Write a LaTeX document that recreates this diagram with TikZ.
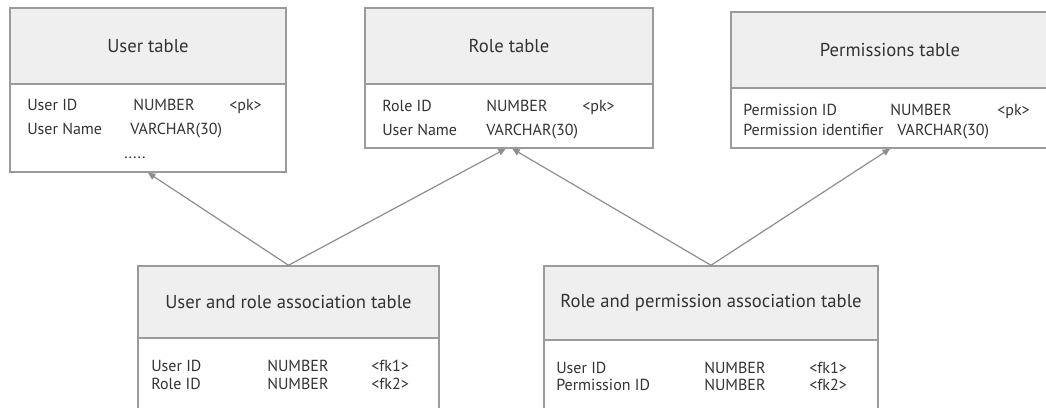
\documentclass[tikz,border=0pt]{standalone}
\usepackage{fontspec}
\setmainfont{PT Sans}
\usetikzlibrary{fit,arrows.meta}

\definecolor{headfill}{HTML}{EFEFEF}
\definecolor{boxline}{HTML}{9B9B9B}
\definecolor{linkline}{HTML}{8E8E8E}
\definecolor{txt}{HTML}{333333}

\tikzset{
  tablehead/.style={draw=boxline, line width=1.1pt, fill=headfill, inner sep=0pt},
  tabletitle/.style={text=txt, font=\fontsize{14}{16}\selectfont},
  tablebody/.style={draw=boxline, line width=1.1pt, fill=white, inner sep=0pt},
  field/.style={anchor=base west, inner sep=0pt, text=txt, font=\fontsize{12}{14}\selectfont},
  link/.style={draw=linkline, line width=0.9pt, -{Triangle[length=5.5pt,width=5pt]}}
}

\begin{document}
\begin{tikzpicture}[x=0.75pt,y=0.75pt,yscale=-1,xscale=1]
	\useasboundingbox (0,0) rectangle (1046,407);
	\clip (0,0) rectangle (1046,407);
	% user table
	\node [tablehead, fit={(10,8) (286,84)}] (userhead) {};
	\node [tabletitle] (usertitle) at (userhead.center) {User table};
	\node [tablebody, fit={(10,84) (286,172)}] (userbody) {};
	\node [field] (u1) at (27,110) {User ID};
	\node [field] (u2) at (133,110) {NUMBER};
	\node [field] (u3) at (229,110) {<pk>};
	\node [field] (u4) at (27,134) {User Name};
	\node [field] (u5) at (130,134) {VARCHAR(30)};
	\node [field] (u6) at (124,158) {.....};
	% role table
	\node [tablehead, fit={(365,8) (653,84)}] (rolehead) {};
	\node [tabletitle] (roletitle) at (rolehead.center) {Role table};
	\node [tablebody, fit={(365,84) (653,148)}] (rolebody) {};
	\node [field] (r1) at (382,111) {Role ID};
	\node [field] (r2) at (486,111) {NUMBER};
	\node [field] (r3) at (582,111) {<pk>};
	\node [field] (r4) at (382,135) {User Name};
	\node [field] (r5) at (486,135) {VARCHAR(30)};
	% permissions table
	\node [tablehead, fit={(731,12) (1049,88)}] (permhead) {};
	\node [tabletitle] (permtitle) at (permhead.center) {Permissions table};
	\node [tablebody, fit={(731,88) (1049,148)}] (permbody) {};
	\node [field] (p1) at (743,115) {Permission ID};
	\node [field] (p2) at (890,115) {NUMBER};
	\node [field] (p3) at (997,115) {<pk>};
	\node [field] (p4) at (743,135) {Permission identifier};
	\node [field] (p5) at (897,135) {VARCHAR(30)};
	% user and role association table
	\node [tablehead, fit={(138,266) (439,338)}] (urhead) {};
	\node [tabletitle] (urtitle) at (urhead.center) {User and role association table};
	\node [tablebody, fit={(138,338) (439,440)}] (urbody) {};
	\node [field] (a1) at (151,371) {User ID};
	\node [field] (a2) at (267,371) {NUMBER};
	\node [field] (a3) at (371,371) {<fk1>};
	\node [field] (a4) at (151,389) {Role ID};
	\node [field] (a5) at (267,389) {NUMBER};
	\node [field] (a6) at (371,389) {<fk2>};
	% role and permission association table
	\node [tablehead, fit={(544,266) (878,340)}] (rphead) {};
	\node [tabletitle] (rptitle) at (rphead.center) {Role and permission association table};
	\node [tablebody, fit={(544,340) (878,440)}] (rpbody) {};
	\node [field] (b1) at (556,373) {User ID};
	\node [field] (b2) at (704,373) {NUMBER};
	\node [field] (b3) at (809,373) {<fk1>};
	\node [field] (b4) at (556,390) {Permission ID};
	\node [field] (b5) at (704,390) {NUMBER};
	\node [field] (b6) at (809,390) {<fk2>};
	% links
	\draw [link] (urhead.north) -- (userbody.south);
	\draw [link] (urhead.north) -- ([xshift=-2.5pt]rolebody.south);
	\draw [link] (rphead.north) -- ([xshift=2.5pt]rolebody.south);
	\draw [link] (rphead.north) -- (permbody.south);
\end{tikzpicture}
\end{document}
